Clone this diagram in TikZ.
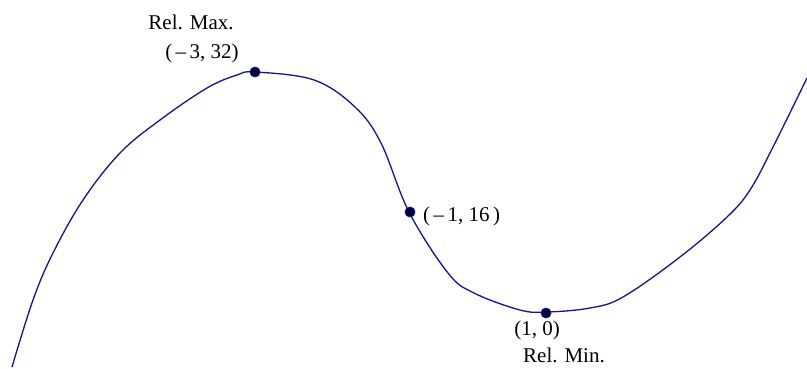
\documentclass[tikz,border=0pt]{standalone}
\usepackage{fontspec}
\setmainfont{Liberation Serif}
\definecolor{curveblue}{RGB}{20,20,140}
\definecolor{dotblue}{RGB}{0,0,60}
\begin{document}
\begin{tikzpicture}[x=1pt,y=-1pt,
  dot/.style={circle,fill=dotblue,draw=curveblue,line width=0.8pt,inner sep=0pt,minimum size=10pt},
  lbl/.style={font=\fontsize{21}{24}\selectfont,inner sep=0pt,anchor=base}]
\useasboundingbox (0,0) rectangle (807,369);
\draw[curveblue,line width=1.3pt] plot[smooth,tension=0.6] coordinates {
 (12,367) (33,300) (53,253) (83,200) (120,153) (160,120) (207,88) (237,75)
 (255,72) (314,80) (355,107) (381,143) (409,212) (448,273) (474,293)
 (520,310) (547,312) (590,308) (623,297) (680,257) (727,217) (750,190)
 (773,147) (807,78)};
\node[dot] (max) at (255,72) {};
\node[dot] (infl) at (410,212) {};
\node[dot] (min) at (546,313) {};
\node[lbl] (maxt) at (191,30) {Rel. Max.};
\node[lbl] (maxc) at (202,59) {(\,–\,3, 32)};
\node[lbl,anchor=base west] (inflc) at (423,221) {(\,–\,1, 16\,)};
\node[lbl] (minc) at (537,335) {(1, 0)};
\node[lbl] (mint) at (564,362) {Rel. Min.};
\end{tikzpicture}
\end{document}
